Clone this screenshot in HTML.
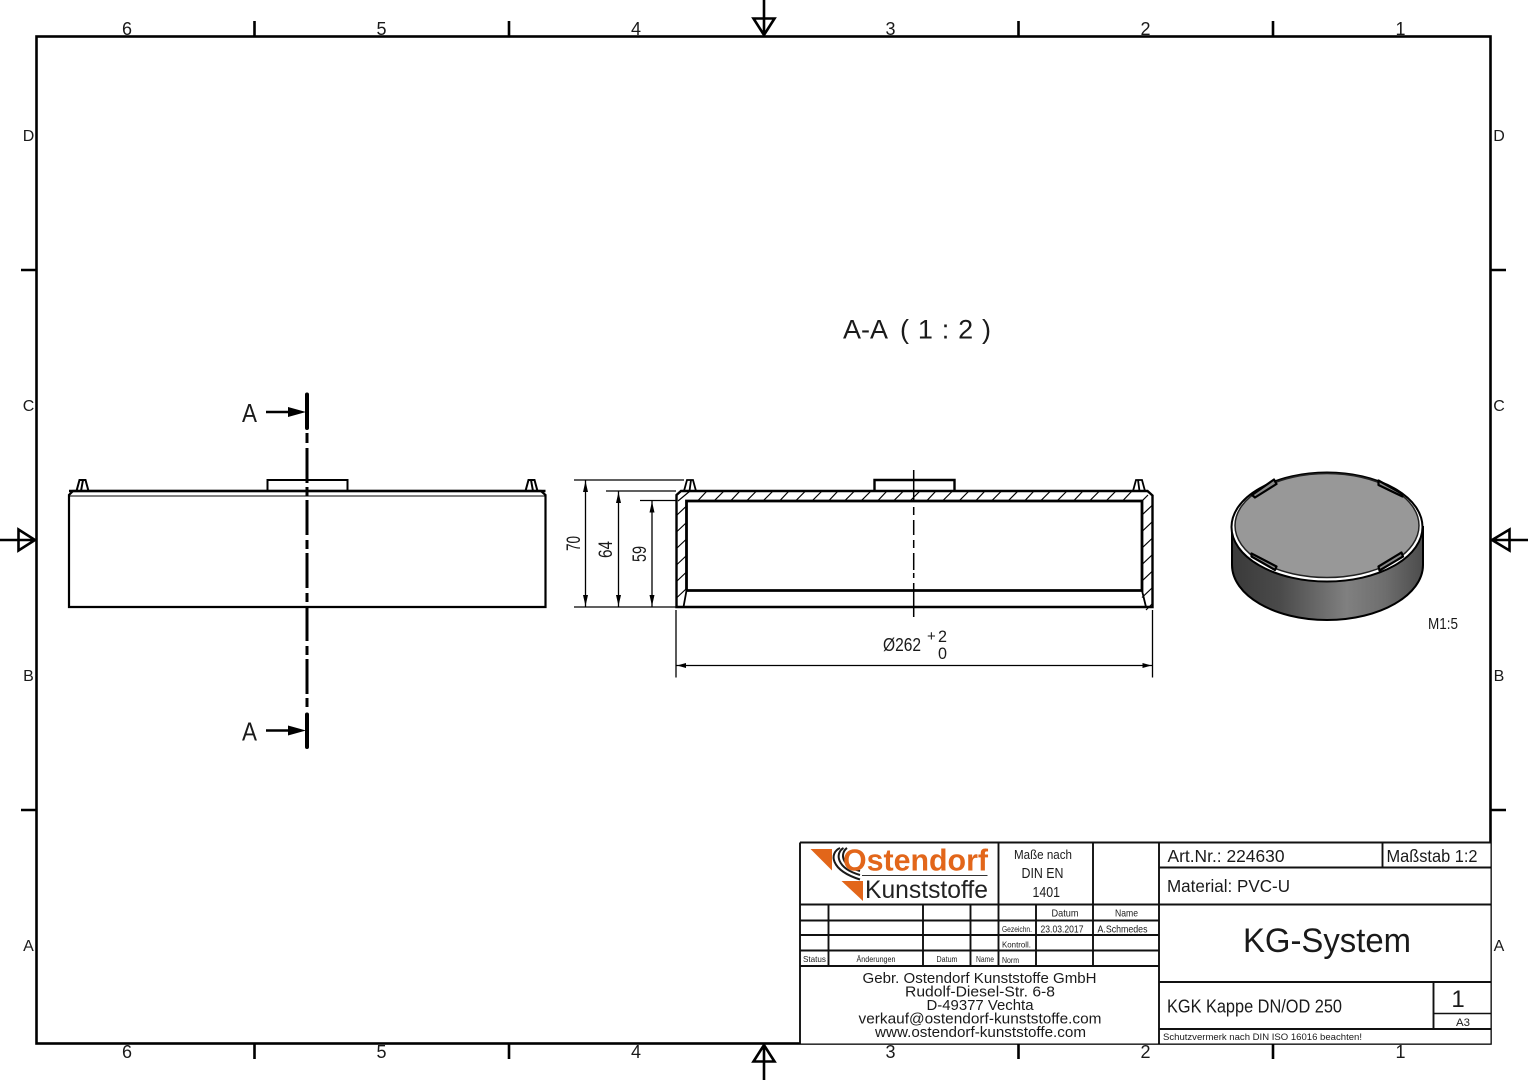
<!DOCTYPE html>
<html><head><meta charset="utf-8"><title>KGK Kappe DN/OD 250</title>
<style>
html,body{margin:0;padding:0;background:#fff;width:1528px;height:1080px;overflow:hidden}
svg{display:block}
text{font-family:"Liberation Sans",sans-serif;fill:#1a1a1a}
</style></head><body>
<svg xmlns="http://www.w3.org/2000/svg" width="1528" height="1080" viewBox="0 0 1528 1080">
<defs>
<linearGradient id="side" x1="0" x2="1" y1="0" y2="0">
<stop offset="0" stop-color="#3a3a3a"/><stop offset=".25" stop-color="#4a4a4a"/><stop offset=".6" stop-color="#808080"/><stop offset=".8" stop-color="#6e6e6e"/><stop offset="1" stop-color="#4c4c4c"/>
</linearGradient>
</defs>
<rect width="1528" height="1080" fill="#fff"/>

<!-- Frame -->
<rect x="36.5" y="36.5" width="1454" height="1007" fill="none" stroke="#000" stroke-width="2.600"/>
<g stroke="#000" stroke-width="2.600" fill="none">
<path d="M254.5 21V36M509 21V36M1018.5 21V36M1273 21V36M254.5 1044V1059M509 1044V1059M1018.5 1044V1059M1273 1044V1059"/>
<path d="M21 270H36M21 810H36M1491 270H1506M1491 810H1506"/>
<path d="M764 0V35M753.5 18.5H774.5L764 35ZM764 1080V1045M753.5 1061.500H774.500L764 1045Z"/>
<path d="M0 540H35M18.500 529.500V550.500L35 540ZM1528 540H1492M1509.500 529.500V550.500L1492 540Z"/>
</g>
<g font-size="18" text-anchor="middle">
<text x="127" y="35">6</text><text x="381.500" y="35">5</text><text x="636" y="35">4</text><text x="890.500" y="35">3</text><text x="1145.500" y="35">2</text><text x="1400.500" y="35">1</text>
<text x="127" y="1058">6</text><text x="381.500" y="1058">5</text><text x="636" y="1058">4</text><text x="890.500" y="1058">3</text><text x="1145.500" y="1058">2</text><text x="1400.500" y="1058">1</text>
<text x="28.500" y="141" font-size="16">D</text><text x="28.500" y="411" font-size="16">C</text><text x="28.500" y="681" font-size="16">B</text><text x="28.500" y="951" font-size="16">A</text>
<text x="1499" y="141" font-size="16">D</text><text x="1499" y="411" font-size="16">C</text><text x="1499" y="681" font-size="16">B</text><text x="1499" y="951" font-size="16">A</text>
</g>

<text x="843" y="338.500" font-size="27" textLength="45" lengthAdjust="spacingAndGlyphs">A-A</text>
<text x="900" y="338.500" font-size="27" textLength="91" lengthAdjust="spacing">( 1 : 2 )</text>

<!-- Left view -->
<g fill="none" stroke="#000">
<path d="M69 607V495L73 491H541L545.500 495V607Z" stroke-width="2.200"/>
<path d="M69 496H545.500" stroke-width="1"/>
<path d="M69 491H545.500" stroke-width="2.500"/>
<path d="M76.500 491L79.500 480H85.500L88.500 491M81 491L83 480" stroke-width="2"/>
<path d="M525.500 491L528.500 480H534.500L537.500 491M533 491L531 480" stroke-width="2"/>
<path d="M267.500 491V480H347.500V491" stroke-width="2"/>
</g>
<!-- Section line -->
<g stroke="#000" fill="none" stroke-width="3">
<path d="M307 433V443M307 448V483M307 487V496M307 500V535M307 540V549M307 553V588M307 593V602M307 606V641M307 646V655M307 659V694M307 698V707"/>
<path d="M307 394.500V428M307 714.500V747" stroke-width="4" stroke-linecap="round"/>
<path d="M266 412H290M266 730.500H290" stroke-width="2.500"/>
</g>
<path d="M288 407L306 412L288 417ZM288 725.500L306 730.500L288 735.500Z" fill="#000"/>
<text x="242" y="422" font-size="26" textLength="15" lengthAdjust="spacingAndGlyphs">A</text>
<text x="242" y="740.500" font-size="26" textLength="15" lengthAdjust="spacingAndGlyphs">A</text>

<!-- Section view -->
<g fill="none" stroke="#000">
<path d="M676.500 607V495L681 491H1147.500L1152.500 495.500V607Z" stroke-width="2.400"/>
<path d="M686.500 590.500V501H1142V590.500H686.500" stroke-width="2.800"/>
<path d="M684 491L687 480H693L696 491M689.500 491L691 480" stroke-width="1.800"/>
<path d="M1133 491L1136 480H1142L1145 491M1139.500 491L1138 480" stroke-width="1.800"/>
<path d="M874.500 491V480H954.500V491" stroke-width="2.400"/>
<path d="M686.500 590.500L683.500 607M1142 590.500L1146 607" stroke-width="1.800"/>
<path d="M913.700 470V500M913.700 507V515M913.700 520V535M913.700 540V548M913.700 553V570M913.700 573V578M913.700 583V617" stroke-width="1.500"/>
<!-- hatch -->
<path stroke-width="1.200" d="M678 501L690 491M698 500.500L707 491M714.500 500.500L724 491M731 500.500L740 491M747 500.500L756.500 491M763.500 500.500L773 491M780 500.500L789 491M796 500.500L805.500 491M812.500 500.500L822 491M829 500.500L838 491M845 500.500L854.500 491M861.500 500.500L871 491M878 500.500L887 491M894 500.500L903.500 491M910.500 500.500L920 491M927 500.500L936 491M943 500.500L952.500 491M959.500 500.500L969 491M976 500.500L985 491M992 500.500L1001.500 491M1008.500 500.500L1018 491M1025 500.500L1034 491M1041 500.500L1050.500 491M1057.500 500.500L1067 491M1074 500.500L1083 491M1090 500.500L1099.500 491M1106.500 500.500L1116 491M1123 500.500L1132 491"/>
<path stroke-width="1.200" d="M677 515L686.500 506M677 531.500L686.500 522.500M677 548L686.500 539M677 564.500L686.500 555.500M677 581L686.500 572M677 597.500L686 589"/>
<path stroke-width="1.200" d="M1142 515L1152 505.500M1142 531.500L1152 522M1142 548L1152 538.500M1142 564.500L1152 555M1142 581L1152 571.500M1142 597.500L1152 588M1146 610L1152 604M1142 501L1148 495"/>
<!-- dims -->
<g stroke-width="1.300">
<path d="M574 480H684M574 607H676M606 491H676M640 500.500H677"/>
<path d="M585.500 480V607M618.500 491V607M652 500.500V607"/>
<path d="M676 610V677.500M1152.500 610V677.500M676 665.500H1152.500"/>
</g>
</g>
<path fill="#000" d="M585.500 481L583 492H588ZM585.500 606L583 595H588ZM618.500 492L616 503H621ZM618.500 606L616 595H621ZM652 501.500L649.500 512.500H654.500ZM652 606L649.500 595H654.500ZM677 665.500L686 663V668ZM1151.500 665.500L1142.500 663V668Z"/>
<text transform="translate(580,551) rotate(-90)" font-size="19" textLength="15" lengthAdjust="spacingAndGlyphs">70</text>
<text transform="translate(612,558) rotate(-90)" font-size="19" textLength="17" lengthAdjust="spacingAndGlyphs">64</text>
<text transform="translate(646,562) rotate(-90)" font-size="19" textLength="16" lengthAdjust="spacingAndGlyphs">59</text>
<text x="883" y="651" font-size="18" textLength="38" lengthAdjust="spacingAndGlyphs">Ø262</text>
<text x="927" y="641" font-size="15">+</text>
<text x="938" y="642" font-size="17" textLength="9" lengthAdjust="spacingAndGlyphs">2</text>
<text x="938" y="659" font-size="17" textLength="9" lengthAdjust="spacingAndGlyphs">0</text>

<!-- Isometric -->
<path d="M1232 527V565C1232 595 1274 620 1327 620C1380 620 1423 595 1423 565V527Z" fill="url(#side)" stroke="#000" stroke-width="2"/>
<ellipse cx="1327" cy="527" rx="95.500" ry="54.500" fill="#fff" stroke="#000" stroke-width="2"/>
<ellipse cx="1327" cy="525.500" rx="92" ry="52" fill="#989898" stroke="#222" stroke-width="1.500"/>
<g fill="#8a8a8a" stroke="#000" stroke-width="2.200" stroke-linejoin="round">
<path d="M1252 495L1255 497.500L1276.500 484L1274 479.500Z"/>
<path d="M1378.500 480.500L1401.500 493.500L1402.500 496.500L1378.500 485Z"/>
<path d="M1251.500 553.500L1276.500 566.500L1275 570L1251.500 556.500Z"/>
<path d="M1378.500 566.500L1401.500 552.500L1403 556.500L1379.500 570.500Z"/>
</g>
<text x="1428" y="629" font-size="16" textLength="30" lengthAdjust="spacingAndGlyphs">M1:5</text>

<!-- Title block -->
<rect x="800" y="842.500" width="690.500" height="201" fill="#fff"/>
<g fill="none" stroke="#111">
<g stroke-width="1.900">
<path d="M800 842.500H1490.500M800 842.500V1043.500"/>
<path d="M800 904.500H1159M800 920.500H1159M800 935H1159M800 950.500H1159M800 966H1159"/>
<path d="M828.500 904.500V966M923 904.500V966M970.500 904.500V966M998.500 842.500V966M1036 904.500V966M1093 842.500V966M1159 842.500V1043.500"/>
<path d="M1159 867.500H1490.500M1382.500 842.500V867.500M1159 904.500H1490.500M1159 982H1490.500M1433.500 982V1029M1159 1029H1490.500"/>
</g>
<path d="M1433.500 1013.500H1490.500" stroke-width="1.500"/>
</g>
<!-- Logo -->
<path d="M810.500 849H832V870.500ZM841.500 881H863V901Z" fill="#e2661a"/>
<g fill="none" stroke="#1a1a1a" stroke-width="2">
<path d="M840 848C829 853 830 870 860 879.500"/>
<path d="M843.500 848C835 853 836 868 860 875"/>
<path d="M847 848C840 853 841 866 860 871"/>
</g>
<text x="843" y="870.500" font-size="31" font-weight="bold" textLength="145" lengthAdjust="spacingAndGlyphs" style="fill:#e2661a">Ostendorf</text>
<path d="M862 875.500H987.500" stroke="#333" stroke-width="1"/>
<text x="865" y="898" font-size="25" textLength="123" lengthAdjust="spacingAndGlyphs" style="fill:#222">Kunststoffe</text>

<text x="1014" y="859" font-size="13" textLength="58" lengthAdjust="spacingAndGlyphs">Maße nach</text>
<text x="1021.500" y="878" font-size="15" textLength="42" lengthAdjust="spacingAndGlyphs">DIN EN</text>
<text x="1032.500" y="897" font-size="15" textLength="27.500" lengthAdjust="spacingAndGlyphs">1401</text>
<text x="1051.500" y="916.500" font-size="10.500" textLength="27" lengthAdjust="spacingAndGlyphs">Datum</text>
<text x="1115" y="916.500" font-size="10.500" textLength="23" lengthAdjust="spacingAndGlyphs">Name</text>
<text x="1002" y="932" font-size="8.500" textLength="30" lengthAdjust="spacingAndGlyphs">Gezeichn.</text>
<text x="1040.500" y="932.500" font-size="10.500" textLength="43" lengthAdjust="spacingAndGlyphs">23.03.2017</text>
<text x="1097.500" y="932.500" font-size="10.500" textLength="50" lengthAdjust="spacingAndGlyphs">A.Schmedes</text>
<text x="1002" y="947.500" font-size="8.500" textLength="29" lengthAdjust="spacingAndGlyphs">Kontroll.</text>
<text x="1002" y="963" font-size="8.500" textLength="17" lengthAdjust="spacingAndGlyphs">Norm</text>
<text x="803" y="962" font-size="8.500" textLength="23" lengthAdjust="spacingAndGlyphs">Status</text>
<text x="856.500" y="962" font-size="8.500" textLength="39" lengthAdjust="spacingAndGlyphs">Änderungen</text>
<text x="936.500" y="962" font-size="8.500" textLength="21" lengthAdjust="spacingAndGlyphs">Datum</text>
<text x="976" y="962" font-size="8.500" textLength="18" lengthAdjust="spacingAndGlyphs">Name</text>

<g font-size="15">
<text x="862.500" y="983" textLength="234" lengthAdjust="spacingAndGlyphs">Gebr. Ostendorf Kunststoffe GmbH</text>
<text x="905" y="996.500" textLength="150" lengthAdjust="spacingAndGlyphs">Rudolf-Diesel-Str. 6-8</text>
<text x="926.500" y="1010" textLength="107" lengthAdjust="spacingAndGlyphs">D-49377 Vechta</text>
<text x="858.500" y="1023.500" textLength="243" lengthAdjust="spacingAndGlyphs">verkauf@ostendorf-kunststoffe.com</text>
<text x="875" y="1037" textLength="211" lengthAdjust="spacingAndGlyphs">www.ostendorf-kunststoffe.com</text>
</g>

<text x="1167.500" y="862" font-size="17.500" textLength="117" lengthAdjust="spacingAndGlyphs">Art.Nr.: 224630</text>
<text x="1386.500" y="862" font-size="17.500" textLength="91" lengthAdjust="spacingAndGlyphs">Maßstab 1:2</text>
<text x="1167" y="892" font-size="17.500" textLength="123" lengthAdjust="spacingAndGlyphs">Material: PVC-U</text>
<text x="1243" y="952" font-size="34" textLength="168" lengthAdjust="spacingAndGlyphs">KG-System</text>
<text x="1167" y="1012.500" font-size="18" textLength="175" lengthAdjust="spacingAndGlyphs">KGK Kappe DN/OD 250</text>
<text x="1458" y="1007" font-size="24" text-anchor="middle">1</text>
<text x="1456" y="1026" font-size="11" textLength="14" lengthAdjust="spacingAndGlyphs">A3</text>
<text x="1163" y="1040" font-size="9" textLength="199" lengthAdjust="spacingAndGlyphs">Schutzvermerk nach DIN ISO 16016 beachten!</text>
</svg>
</body></html>
